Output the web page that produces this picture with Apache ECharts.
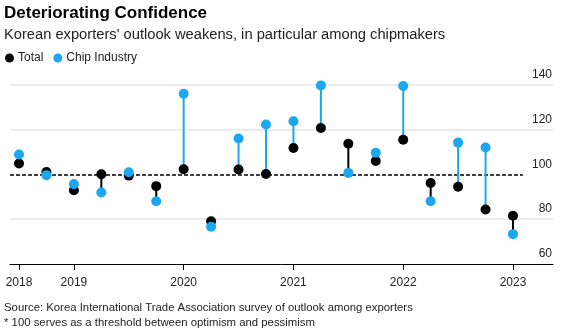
<!DOCTYPE html>
<html>
<head>
<meta charset="utf-8">
<script src="https://cdn.jsdelivr.net/npm/echarts@6/dist/echarts.min.js"></script>
<style>
html,body{margin:0;padding:0;background:#fff;}
#chart{width:561px;height:335px;}
</style>
</head>
<body>
<div id="chart"></div>
<script>
// Quarterly survey index (2018 Q3 - 2023 Q1)
const categories = ['2018 Q3','2018 Q4','2019 Q1','2019 Q2','2019 Q3','2019 Q4','2020 Q1','2020 Q2','2020 Q3','2020 Q4','2021 Q1','2021 Q2','2021 Q3','2021 Q4','2022 Q1','2022 Q2','2022 Q3','2022 Q4','2023 Q1'];
const totalValues = [104.8,101.0,92.9,100.0,99.4,94.7,102.2,79.0,102.1,100.1,111.7,120.6,113.6,105.9,115.4,96.1,94.4,84.3,81.5];
const chipValues  = [108.8,99.6,95.6,91.9,100.9,88.0,135.9,76.6,115.9,122.2,123.6,139.6,100.6,109.6,139.3,88.0,114.1,111.9,73.3];
const yTicks = [60,80,100,120,140];
const threshold = 100;

const BLUE = '#1ba8f0';
const BLACK = '#000000';
const FONT = '"Liberation Sans", Arial, Helvetica, sans-serif';

const tickIdx = categories.map((c,i)=> (i===0 || c.endsWith('Q1')) ? i : -1).filter(i=>i>=0);
const xMin = -0.328, xMax = 19.458;

const chart = echarts.init(document.getElementById('chart'), null, {renderer:'canvas'});
chart.setOption({
  animation:false,
  backgroundColor:'#fff',
  textStyle:{fontFamily:FONT},
  title:[
    {text:'Deteriorating Confidence', left:4, top:4.5, padding:0,
     textStyle:{fontFamily:FONT, fontSize:17, fontWeight:'bold', color:'#000'}},
    {text:"Korean exporters' outlook weakens, in particular among chipmakers", left:4, top:27, padding:0,
     textStyle:{fontFamily:FONT, fontSize:14.7, fontWeight:'normal', color:'#222'}}
  ],
  legend:{
    left:5, top:52, padding:0, icon:'circle', itemWidth:9, itemHeight:9, itemGap:10,
    textStyle:{fontFamily:FONT, fontSize:12, color:'#222', padding:[0,0,0,-1]},
    data:['Total','Chip Industry']
  },
  grid:{left:10, right:8, top:84.5, bottom:71, containLabel:false},
  xAxis:{
    type:'value', min:xMin, max:xMax,
    axisLine:{show:true, lineStyle:{color:'#000', width:1}},
    axisTick:{show:true, customValues:tickIdx, length:6, lineStyle:{color:'#000'}},
    axisLabel:{show:true, customValues:tickIdx, margin:13, fontSize:12, color:'#222', fontFamily:FONT,
      formatter:(v)=>{const i=Math.round(v); return categories[i] ? categories[i].slice(0,4) : '';}},
    splitLine:{show:false}
  },
  yAxis:{
    type:'value', position:'right', min:yTicks[0], max:yTicks[yTicks.length-1], interval:20,
    axisLine:{show:false}, axisTick:{show:false},
    axisLabel:{inside:true, margin:1, fontSize:12, color:'#222', fontFamily:FONT,
      verticalAlign:'bottom', padding:[0,0,4,0]},
    splitLine:{show:true, lineStyle:{color:['rgba(0,0,0,0)','#e4e4e4','rgba(0,0,0,0)','#e4e4e4','#e4e4e4'], width:1.5}}
  },
  series:[
    {
      type:'custom', name:'stems', z:2,
      encode:{x:0, y:[1,2]},
      data: categories.map((_,i)=>[i,totalValues[i],chipValues[i]]),
      renderItem:(params, api)=>{
        const i=api.value(0), t=api.value(1), c=api.value(2);
        const p1=api.coord([i,t]), p2=api.coord([i,c]);
        return {type:'line', shape:{x1:p1[0],y1:p1[1],x2:p2[0],y2:p2[1]},
          style:{stroke: c>t ? BLUE : BLACK, lineWidth:2}};
      },
      markLine:{
        silent:true, symbol:'none', z:1, label:{show:false},
        lineStyle:{type:[4,2], color:'#000', width:1.5},
        data:[[{coord:[xMin,threshold]},{coord:[18.36,threshold]}]]
      }
    },
    {
      type:'scatter', name:'Total', z:3, symbolSize:10,
      itemStyle:{color:BLACK, opacity:1},
      data: totalValues.map((v,i)=>[i,v])
    },
    {
      type:'scatter', name:'Chip Industry', z:4, symbolSize:10,
      itemStyle:{color:BLUE, opacity:1},
      data: chipValues.map((v,i)=>[i,v])
    }
  ],
  graphic:[
    {type:'text', left:4, top:302, style:{text:'Source: Korea International Trade Association survey of outlook among exporters', font:'11.35px '+FONT, fill:'#222'}},
    {type:'text', left:4, top:317, style:{text:'* 100 serves as a threshold between optimism and pessimism', font:'11.35px '+FONT, fill:'#222'}}
  ]
});
</script>
</body>
</html>
